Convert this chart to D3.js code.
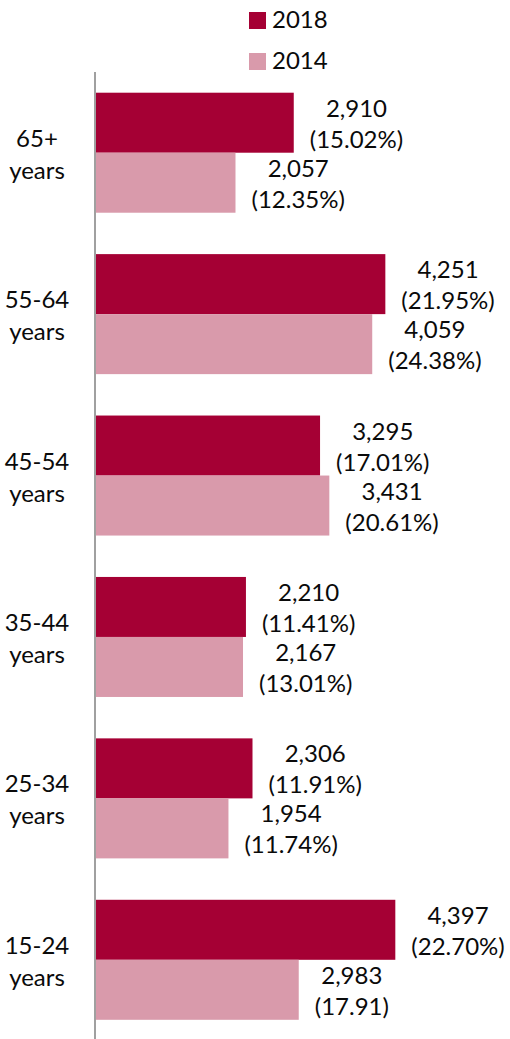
<!DOCTYPE html>
<html>
<head>
<meta charset="utf-8">
<script src="https://cdn.jsdelivr.net/npm/d3@7"></script>
<style>
  body { margin: 0; background: #fff; }
  text { font-family: Lato, "Open Sans", sans-serif; fill: #0a0a0a; }
</style>
</head>
<body>
<div id="chart"></div>
<script>
// age groups, top to bottom
var groups = ['65+', '55-64', '45-54', '35-44', '25-34', '15-24'];
var series = ['2018', '2014'];
var colors = ['#a50034', '#d99aab'];

var values2018 = [2910, 4251, 3295, 2210, 2306, 4397];
var values2014 = [2057, 4059, 3431, 2167, 1954, 2983];
var pct2018 = ['(15.02%)', '(21.95%)', '(17.01%)', '(11.41%)', '(11.91%)', '(22.70%)'];
var pct2014 = ['(12.35%)', '(24.38%)', '(20.61%)', '(13.01%)', '(11.74%)', '(17.91)'];

var width = 510,
	height = 1039;

var svg = d3.select('#chart').append('svg')
	.attr('width', width)
	.attr('height', height);

var x = d3.scaleLinear().domain([0, 5000]).range([95, 95 + 341.5]);

var y = d3.scaleBand()
	.domain(groups)
	.range([72, 1040.5])
	.paddingInner(0.2565)
	.paddingOuter(0.2565 / 2);

var ySub = d3.scaleBand().domain(series).range([0, y.bandwidth()]);

var fmt = d3.format(',');
var fontSize = 24;

// rows of data, one per bar
var rows = [];
groups.forEach(function(g, i) {
	rows.push({ group: g, s: '2018', v: values2018[i], pct: pct2018[i], c: colors[0] });
	rows.push({ group: g, s: '2014', v: values2014[i], pct: pct2014[i], c: colors[1] });
});

// bars
svg.append('g').selectAll('rect')
	.data(rows)
	.enter().append('rect')
		.attr('x', x(0))
		.attr('y', function(d) { return y(d.group) + ySub(d.s); })
		.attr('width', function(d) { return x(d.v) - x(0); })
		.attr('height', ySub.bandwidth())
		.style('fill', function(d) { return d.c; });

// value labels (two lines, centred, placed right of bar end)
rows.forEach(function(d) {
	var cy = y(d.group) + ySub(d.s) + ySub.bandwidth() / 2;
	var lab = svg.append('g');
	var t1 = lab.append('text')
		.attr('y', cy - 6)
		.attr('text-anchor', 'middle')
		.style('font-size', fontSize + 'px')
		.text(fmt(d.v));
	var t2 = lab.append('text')
		.attr('y', cy + 25)
		.attr('text-anchor', 'middle')
		.style('font-size', fontSize + 'px')
		.text(d.pct);
	var w = Math.max(t1.node().getComputedTextLength(), t2.node().getComputedTextLength());
	var cx = x(d.v) + 16 + w / 2;
	t1.attr('x', cx);
	t2.attr('x', cx);
});

// category labels
groups.forEach(function(g) {
	var cy = y(g) + y.bandwidth() / 2;
	svg.append('text')
		.attr('x', 37).attr('y', cy - 6)
		.attr('text-anchor', 'middle')
		.style('font-size', fontSize + 'px')
		.text(g);
	svg.append('text')
		.attr('x', 37).attr('y', cy + 26)
		.attr('text-anchor', 'middle')
		.style('font-size', fontSize + 'px')
		.text('years');
});

// vertical axis line
svg.append('line')
	.attr('x1', x(0)).attr('x2', x(0))
	.attr('y1', 72).attr('y2', height)
	.style('stroke', '#a0a0a0')
	.style('stroke-width', 2);

// legend
var legend = svg.append('g');
series.forEach(function(s, i) {
	var ly = 12 + i * 41;
	legend.append('rect')
		.attr('x', 249).attr('y', ly)
		.attr('width', 17).attr('height', 17)
		.style('fill', colors[i]);
	legend.append('text')
		.attr('x', 272).attr('y', ly + 16)
		.style('font-size', fontSize + 'px')
		.text(s);
});
</script>
</body>
</html>
